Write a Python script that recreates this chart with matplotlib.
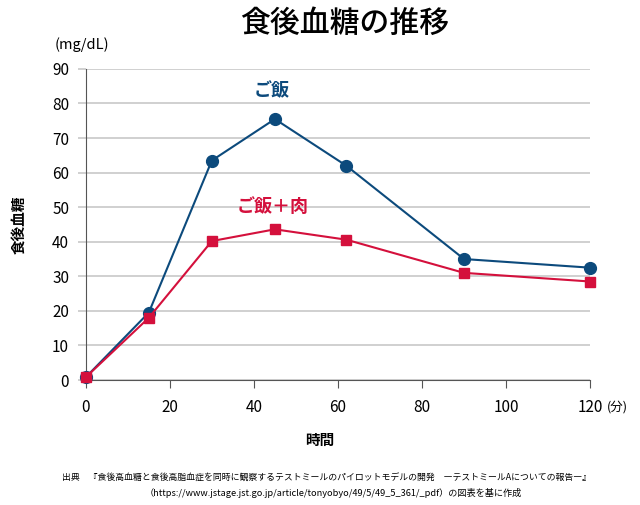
import matplotlib
matplotlib.use('agg')
import matplotlib.pyplot as plt

plt.rcParams['font.family'] = ['Noto Sans CJK JP', 'DejaVu Sans']

# data
minutes = [0, 15, 30, 45, 62, 90, 120]
rice = [0.8, 19.5, 63.5, 75.5, 62.0, 35.0, 32.5]
rice_meat = [0.8, 18.0, 40.2, 43.6, 40.6, 31.0, 28.5]
y_ticks = list(range(0, 100, 10))
x_ticks = [0, 20, 40, 60, 80, 100, 120]

BLUE = '#0c4a7c'
RED = '#d4103c'

fig = plt.figure(figsize=(6.4, 5.05), dpi=100)
ax = fig.add_axes([0.134, 0.2475, 0.788, 0.616])

ax.plot(minutes, rice, color=BLUE, lw=1.5, marker='o', ms=8.5, clip_on=False, zorder=3)
ax.plot(minutes, rice_meat, color=RED, lw=1.5, marker='s', ms=7.5, clip_on=False, zorder=4)

ax.set_xlim(0, 120)
ax.set_ylim(0, 90)
ax.set_yticks(y_ticks)
ax.set_xticks(x_ticks)
ax.grid(axis='y', color='#c8c8c8', lw=1.2)
ax.set_axisbelow(True)
for s in ['top', 'right']:
    ax.spines[s].set_visible(False)
ax.spines['left'].set_color('#555555')
ax.spines['bottom'].set_color('#555555')
ax.tick_params(axis='y', length=6, color='#c8c8c8', width=1.2, labelsize=11, pad=6)
ax.tick_params(axis='x', length=6, color='#555555', labelsize=11, pad=8)

ax.text(44.3, 83.6, 'ご飯', color=BLUE, fontsize=13, fontweight='bold', ha='center', va='center')
ax.text(44.5, 50.3, 'ご飯＋肉', color=RED, fontsize=13, fontweight='bold', ha='center', va='center')

fig.text(0.538, 0.953, '食後血糖の推移', fontsize=21.5, fontweight='medium', ha='center', va='center')
fig.text(0.128, 0.911, '(mg/dL)', fontsize=10.5, ha='center', va='center')
fig.text(0.964, 0.194, '(分)', fontsize=9, ha='center', va='center')
fig.text(0.028, 0.555, '食後血糖', fontsize=10.5, fontweight='bold', rotation=90, ha='center', va='center')
fig.text(0.5, 0.129, '時間', fontsize=10.5, fontweight='bold', ha='center', va='center')
fig.text(0.51, 0.053, '出典　『食後高血糖と食後高脂血症を同時に観察するテストミールのパイロットモデルの開発　―テストミールAについての報告―』',
         fontsize=6.4, ha='center', va='center')
fig.text(0.52, 0.024, '（https://www.jstage.jst.go.jp/article/tonyobyo/49/5/49_5_361/_pdf）の図表を基に作成',
         fontsize=6.6, ha='center', va='center')

fig.savefig('out.png', dpi=100)
